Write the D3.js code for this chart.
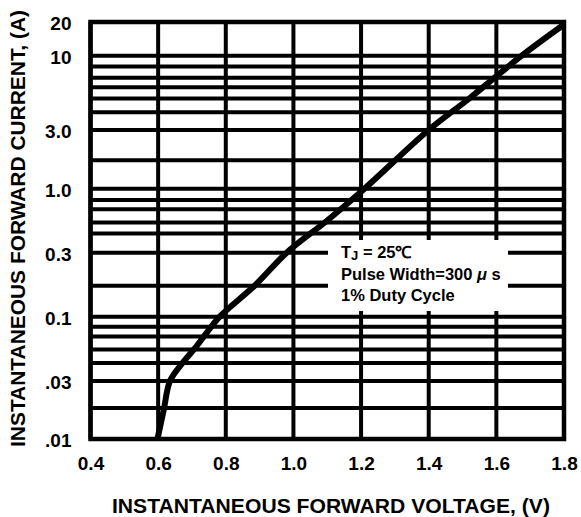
<!DOCTYPE html>
<html>
<head>
<meta charset="utf-8">
<script src="https://cdn.jsdelivr.net/npm/d3@7"></script>
<style>
  body { margin: 0; background: #fff; }
  svg { display: block; font-family: "Liberation Sans", Arial, sans-serif; font-weight: bold; }
</style>
</head>
<body>
<div id="chart"></div>
<script>
// ====================
// Data
// ====================
const vTicks  = [0.4, 0.6, 0.8, 1.0, 1.2, 1.4, 1.6, 1.8];
const vLabels = ["0.4", "0.6", "0.8", "1.0", "1.2", "1.4", "1.6", "1.8"];

const iTicks  = [0.01, 0.03, 0.1, 0.3, 1, 3, 10, 20];
const iLabels = [".01", ".03", "0.1", "0.3", "1.0", "3.0", "10", "20"];

// unlabelled horizontal grid lines
const iGrid = [0.018, 0.042, 0.054, 0.069, 0.083, 0.17, 0.43, 0.53, 0.68, 0.81, 1.7, 4, 5, 6, 7, 8.4];

// forward voltage (V) vs instantaneous current (A)
const curveV = [0.598, 0.617, 0.635, 0.672, 0.710, 0.745, 0.782, 0.885, 0.980, 1.100, 1.210, 1.400, 1.520, 1.675, 1.800];
const curveI = [0.01, 0.0176, 0.03, 0.042, 0.056, 0.075, 0.10, 0.17, 0.30, 0.55, 1.0, 3.0, 5.0, 10, 19];

const noteLines = ["TJ = 25\u2103", "Pulse Width=300 \u03bcs", "1% Duty Cycle"];

// ====================
// Layout
// ====================
const width = 581, height = 517;
// the figure's log axis is not perfectly even, so each labelled tick gets its own position
const yPos = [439, 381, 316.7, 252.7, 188.7, 130, 55.7, 22];

const svg = d3.select("#chart")
  .append("svg")
  .attr("width", width)
  .attr("height", height);

const x = d3.scaleLinear().domain([0.4, 1.8]).range([90.5, 564]);
const y = d3.scaleLog().domain(iTicks).range(yPos);

const ink = "#000";

// grid
const grid = svg.append("g").attr("stroke", ink).attr("stroke-width", 4);
grid.selectAll("line.h")
  .data(iTicks.concat(iGrid))
  .join("line")
  .attr("class", "h")
  .attr("x1", x(0.4)).attr("x2", x(1.8))
  .attr("y1", d => y(d)).attr("y2", d => y(d));

grid.selectAll("line.v")
  .data(vTicks)
  .join("line")
  .attr("class", "v")
  .attr("x1", d => x(d)).attr("x2", d => x(d))
  .attr("y1", y(20)).attr("y2", y(0.01));

// frame
svg.append("rect")
  .attr("x", x(0.4)).attr("y", y(20))
  .attr("width", x(1.8) - x(0.4))
  .attr("height", y(0.01) - y(20))
  .attr("fill", "none")
  .attr("stroke", ink)
  .attr("stroke-width", 4.5);

// annotation box (blanks the grid behind the note)
svg.append("rect")
  .attr("x", 328).attr("y", 240)
  .attr("width", 180).attr("height", 71)
  .attr("fill", "#fff");

const note = svg.append("text")
  .attr("font-size", 16.5)
  .attr("fill", ink);

const t1 = note.append("tspan").attr("x", 341).attr("y", 258);
t1.append("tspan").text("T");
t1.append("tspan").attr("font-size", 13).attr("dy", 2).text("J");
t1.append("tspan").attr("dy", -2).text(" = 25\u2103");

const t2 = note.append("tspan").attr("x", 341).attr("y", 280);
t2.append("tspan").text("Pulse Width=300 ");
t2.append("tspan").attr("font-style", "italic").text("\u03bc");
t2.append("tspan").text(" s");

note.append("tspan").attr("x", 341).attr("y", 301).text(noteLines[2]);

// curve
const pts = curveV.map((v, i) => [x(v), y(curveI[i])]);
svg.append("path")
  .attr("d", d3.line().curve(d3.curveCatmullRom.alpha(0.5))(pts))
  .attr("fill", "none")
  .attr("stroke", ink)
  .attr("stroke-width", 6)
  .attr("stroke-linecap", "butt");

// axes (labels only, the grid is the tick marks)
const xAxis = svg.append("g")
  .attr("transform", `translate(0,${y(0.01)})`)
  .call(d3.axisBottom(x).tickValues(vTicks).tickFormat((d, i) => vLabels[i]).tickSize(0).tickPadding(18));
xAxis.select(".domain").remove();

const yAxis = svg.append("g")
  .attr("transform", `translate(${x(0.4)},0)`)
  .call(d3.axisLeft(y).tickValues(iTicks).tickFormat((d, i) => iLabels[i]).tickSize(0).tickPadding(19));
yAxis.select(".domain").remove();
yAxis.selectAll("text").attr("dy", "0.42em");

svg.selectAll(".tick text")
  .attr("font-family", "'Liberation Sans', Arial, sans-serif")
  .attr("font-weight", "bold")
  .attr("font-size", 19)
  .attr("fill", ink);

// axis titles
svg.append("text")
  .attr("x", 331).attr("y", 513)
  .attr("text-anchor", "middle")
  .attr("font-size", 20)
  .attr("textLength", 438)
  .attr("lengthAdjust", "spacingAndGlyphs")
  .text("INSTANTANEOUS FORWARD VOLTAGE, (V)");

svg.append("text")
  .attr("transform", "translate(25,228.5) rotate(-90)")
  .attr("text-anchor", "middle")
  .attr("font-size", 20)
  .attr("textLength", 437)
  .attr("lengthAdjust", "spacingAndGlyphs")
  .text("INSTANTANEOUS FORWARD CURRENT, (A)");
</script>
</body>
</html>
